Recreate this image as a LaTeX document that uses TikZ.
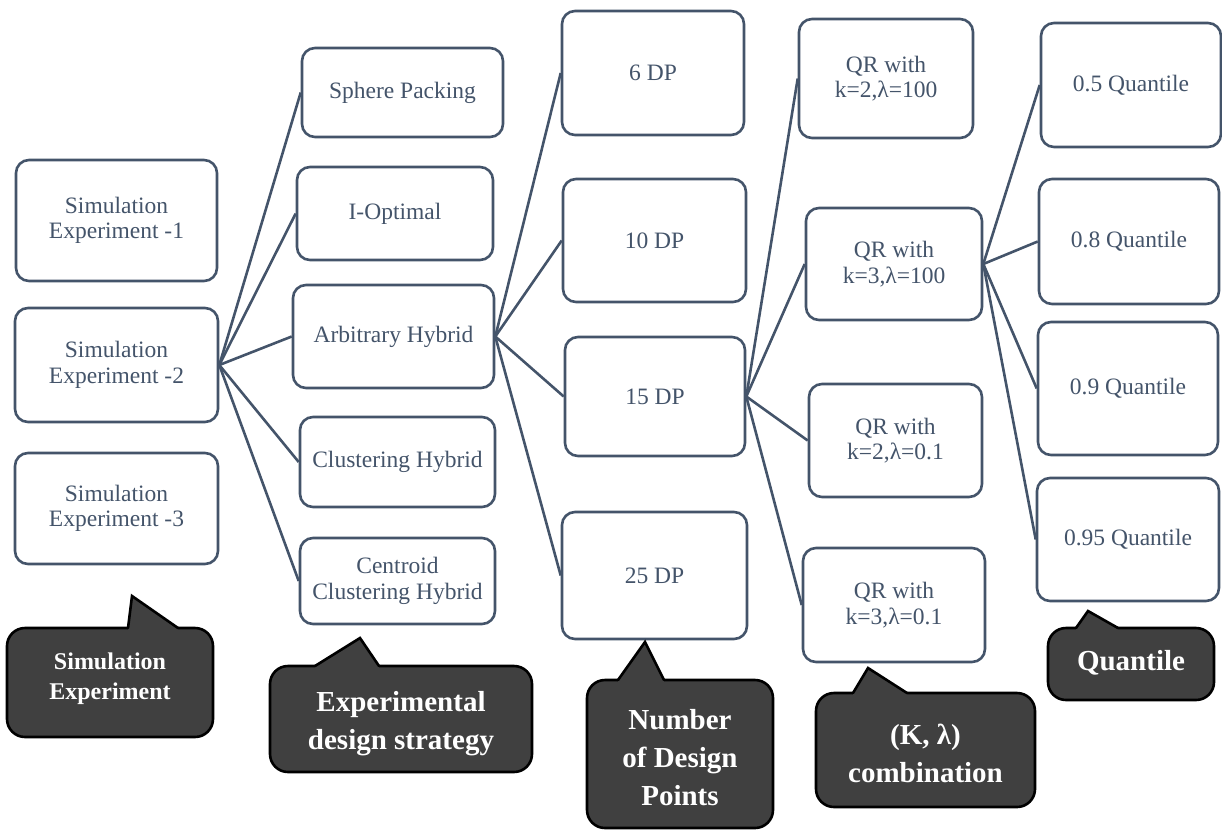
\documentclass[tikz,border=0pt]{standalone}
\usepackage{fontspec}
\setmainfont{Liberation Serif}
\usetikzlibrary{calc}
\definecolor{txtc}{HTML}{44546A}
\definecolor{cfill}{HTML}{404040}
\tikzset{
  box/.style={draw=txtc, line width=2.6pt, rounded corners=13pt, fill=white, text=txtc,
    font=\fontsize{23.5}{25.5}\selectfont, align=center, inner sep=0pt},
  link/.style={draw=txtc, line width=2.6pt},
  cbody/.style={draw=black, line width=2.6pt, fill=cfill, rounded corners=18pt, inner sep=0pt},
  ctext/.style={text=white, font=\bfseries\fontsize{29}{38}\selectfont, align=center, inner sep=0pt},
  ptrfill/.style={fill=cfill},
  ptrline/.style={draw=black, line width=2.6pt, line cap=round, line join=miter}
}
\begin{document}
\begin{tikzpicture}[x=1pt,y=-1pt]
\useasboundingbox (0,0) rectangle (1222,831);
% column 1
\node[box, minimum width=201pt, minimum height=121pt] (se1) at (116.5,220.5) {Simulation\\Experiment -1};
\node[box, minimum width=203pt, minimum height=114pt] (se2) at (116.5,365) {Simulation\\Experiment -2};
\node[box, minimum width=203pt, minimum height=111pt] (se3) at (116.5,508.5) {Simulation\\Experiment -3};
% column 2
\node[box, minimum width=201pt, minimum height=89pt] (sp) at (402.5,92.5) {Sphere Packing};
\node[box, minimum width=196pt, minimum height=93pt] (io) at (395,213.5) {I-Optimal};
\node[box, minimum width=201pt, minimum height=103pt] (ah) at (393.5,336.5) {Arbitrary Hybrid};
\node[box, minimum width=195pt, minimum height=90pt] (ch) at (397.5,462) {Clustering Hybrid};
\node[box, minimum width=195pt, minimum height=86pt] (cch) at (397.5,581) {Centroid\\Clustering Hybrid};
% column 3
\node[box, minimum width=182pt, minimum height=124pt] (dp6) at (653,73) {6 DP};
\node[box, minimum width=183pt, minimum height=123pt] (dp10) at (654.5,240.5) {10 DP};
\node[box, minimum width=180pt, minimum height=119pt] (dp15) at (655,396.5) {15 DP};
\node[box, minimum width=185pt, minimum height=127pt] (dp25) at (654.5,575.5) {25 DP};
% column 4
\node[box, minimum width=174pt, minimum height=119pt] (qr1) at (886,78.5) {QR with\\k=2,λ=100};
\node[box, minimum width=176pt, minimum height=112pt] (qr2) at (894,264) {QR with\\k=3,λ=100};
\node[box, minimum width=173pt, minimum height=113pt] (qr3) at (895.5,440.5) {QR with\\k=2,λ=0.1};
\node[box, minimum width=182pt, minimum height=114pt] (qr4) at (894,605) {QR with\\k=3,λ=0.1};
% column 5
\node[box, minimum width=180pt, minimum height=124pt] (q5) at (1131,85) {0.5 Quantile};
\node[box, minimum width=180pt, minimum height=125pt] (q8) at (1129,241.5) {0.8 Quantile};
\node[box, minimum width=180pt, minimum height=133pt] (q9) at (1128,388.5) {0.9 Quantile};
\node[box, minimum width=182pt, minimum height=123pt] (q95) at (1128,539.5) {0.95 Quantile};
% connectors
\foreach \t in {sp,io,ah,ch,cch} \draw[link] (se2.east) -- (\t.west);
\foreach \t in {dp6,dp10,dp15,dp25} \draw[link] (ah.east) -- (\t.west);
\foreach \t in {qr1,qr2,qr3,qr4} \draw[link] (dp15.east) -- (\t.west);
\foreach \t in {q5,q8,q9,q95} \draw[link] (qr2.east) -- (\t.west);
% callouts
% 1
\node[cbody, minimum width=206pt, minimum height=109pt] (c1) at (110,682.5) {};
\coordinate (c1a) at (128,628); \coordinate (c1b) at (132,596); \coordinate (c1c) at (178,628);
\fill[ptrfill] (c1a) -- (c1b) -- (c1c) -- ++(0,3) -- ($(c1a)+(0,3)$) -- cycle;
\draw[ptrline] (c1a) -- (c1b) -- (c1c);
\node[ctext, font=\bfseries\fontsize{24}{30}\selectfont] (c1t) at (110,679) {Simulation\\Experiment};
% 2
\node[cbody, minimum width=262pt, minimum height=106pt] (c2) at (401,719) {};
\coordinate (c2a) at (315,666); \coordinate (c2b) at (360,638); \coordinate (c2c) at (379,666);
\fill[ptrfill] (c2a) -- (c2b) -- (c2c) -- ++(0,3) -- ($(c2a)+(0,3)$) -- cycle;
\draw[ptrline] (c2a) -- (c2b) -- (c2c);
\node[ctext] (c2t) at (401,724) {Experimental\\design strategy};
% 3
\node[cbody, minimum width=186pt, minimum height=148pt] (c3) at (680,754) {};
\coordinate (c3a) at (618,680); \coordinate (c3b) at (645,642); \coordinate (c3c) at (664,680);
\fill[ptrfill] (c3a) -- (c3b) -- (c3c) -- ++(0,3) -- ($(c3a)+(0,3)$) -- cycle;
\draw[ptrline] (c3a) -- (c3b) -- (c3c);
\node[ctext] (c3t) at (680,758) {Number\\of Design\\Points};
% 4
\node[cbody, minimum width=219pt, minimum height=114pt] (c4) at (925.5,750) {};
\coordinate (c4a) at (853,693); \coordinate (c4b) at (868,668); \coordinate (c4c) at (907,693);
\fill[ptrfill] (c4a) -- (c4b) -- (c4c) -- ++(0,3) -- ($(c4a)+(0,3)$) -- cycle;
\draw[ptrline] (c4a) -- (c4b) -- (c4c);
\node[ctext] (c4t) at (925.5,753) {(K, λ)\\combination};
% 5
\node[cbody, minimum width=166pt, minimum height=72pt] (c5) at (1131,664) {};
\coordinate (c5a) at (1076,628); \coordinate (c5b) at (1088,611); \coordinate (c5c) at (1118,628);
\fill[ptrfill] (c5a) -- (c5b) -- (c5c) -- ++(0,3) -- ($(c5a)+(0,3)$) -- cycle;
\draw[ptrline] (c5a) -- (c5b) -- (c5c);
\node[ctext] (c5t) at (1131,663) {Quantile};
\end{tikzpicture}
\end{document}
